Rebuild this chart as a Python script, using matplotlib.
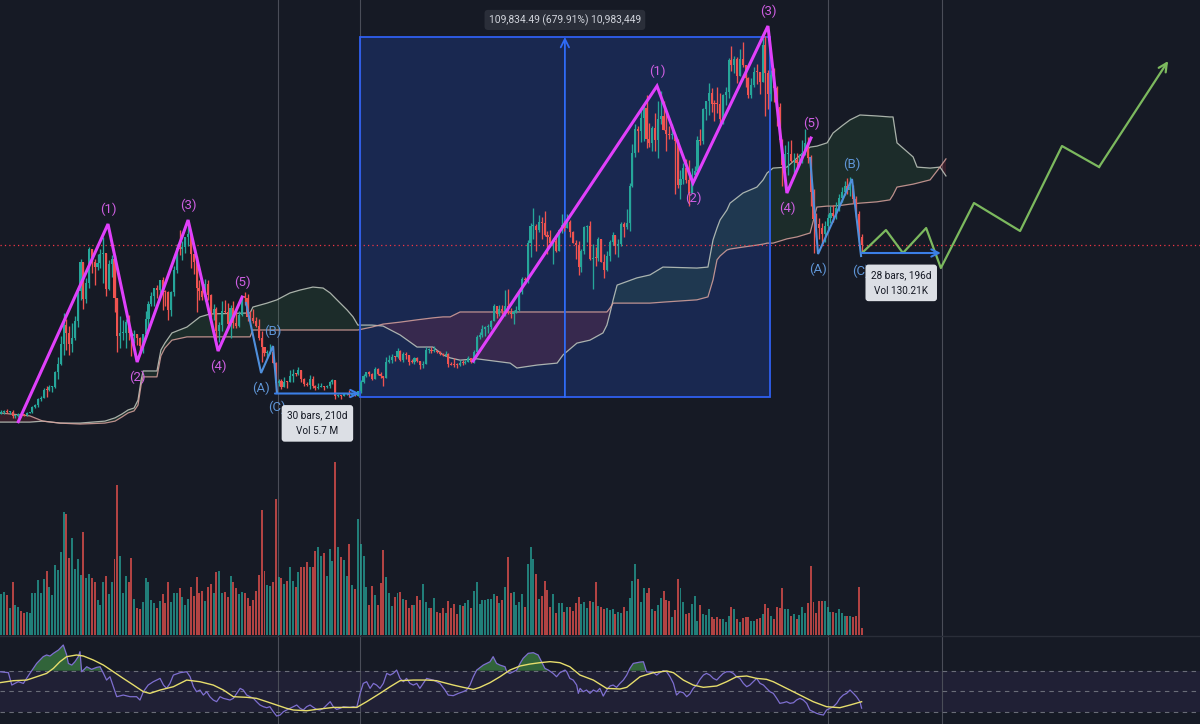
import numpy as np
import matplotlib
matplotlib.use("Agg")
import matplotlib.pyplot as plt
from matplotlib.patches import Rectangle, FancyArrowPatch

plt.rcParams['font.family'] = ['Roboto', 'DejaVu Sans']

BG = '#161a25'
UP = '#26a69a'
DN = '#ef5350'

# ---------------- data (prices in thousands USD, weekly bars) ----------------
first_open = 11.07
closes = [
    11.68, 11.85, 11.65, 11.71, 10.28, 10.33, 11.08, 10.73, 10.67, 11.38,
    11.50, 13.03, 13.80, 15.48, 15.96, 18.41, 18.18, 19.17, 19.27, 23.86,
    26.27, 32.20, 38.15, 35.83, 32.29, 34.26, 39.25, 48.58, 57.49, 46.19,
    50.97, 61.20, 57.35, 55.82, 57.06, 59.77, 60.00, 49.10, 56.60, 58.23,
    46.42, 34.70, 35.68, 35.80, 39.10, 35.60, 34.70, 35.29, 34.26, 31.78,
    35.40, 39.85, 44.61, 47.08, 49.32, 48.83, 51.75, 48.31, 48.28, 42.70,
    48.20, 54.96, 61.53, 61.31, 61.84, 64.95, 66.00, 59.72, 57.27, 49.40,
    48.38, 46.70, 50.78, 47.29, 41.86, 43.08, 36.28, 38.15, 42.41, 42.20,
    38.35, 43.18, 38.81, 37.78, 41.26, 46.82, 46.41, 40.43, 40.38, 39.45,
    37.71, 34.30, 31.33, 29.45, 29.47, 29.86, 26.57, 20.55, 21.03, 19.30,
    20.85, 20.80, 22.58, 23.30, 23.18, 24.31, 21.52, 20.05, 19.83, 21.80,
    19.41, 18.80, 19.31, 19.42, 19.07, 19.57, 20.63, 21.30, 16.33, 16.70,
    16.46, 17.13, 17.20, 16.78, 16.84, 16.55, 17.94, 20.88, 22.71, 23.75,
    23.32, 21.78, 24.63, 23.15, 22.43, 22.04, 26.91, 27.49, 28.45, 28.33,
    30.30, 27.59, 29.23, 28.90, 26.78, 26.75, 28.08, 27.12, 25.84, 26.34,
    30.55, 30.59, 30.17, 30.25, 29.90, 29.28, 29.05, 29.41, 26.10, 26.00,
    25.84, 25.83, 26.53, 26.52, 26.97, 27.92, 26.85, 29.99, 34.50, 35.02,
    37.05, 37.40, 37.45, 39.46, 43.78, 41.37, 43.01, 42.28, 43.93, 41.73,
    41.58, 42.03, 42.58, 48.30, 52.14, 51.73, 63.11, 68.37, 68.39, 67.21,
    69.70, 69.36, 65.66, 64.94, 63.12, 63.89, 60.80, 66.97, 68.51, 67.75,
    69.65, 66.64, 63.21, 62.68, 55.85, 60.79, 68.17, 68.25, 58.12, 58.71,
    58.43, 64.22, 57.30, 54.84, 59.12, 63.35, 65.60, 62.09, 62.85, 69.03,
    67.97, 69.36, 80.44, 90.60, 97.90, 97.28, 101.20, 104.46, 94.87, 93.73,
    98.23, 94.52, 101.04, 101.87, 97.69, 96.48, 96.12, 96.28, 94.27, 80.73,
    82.58, 86.08, 82.34, 78.37, 83.74, 85.17, 94.65, 94.28, 104.17, 106.45,
    109.00, 105.70, 105.65, 105.60, 100.96, 108.39, 109.20, 119.10, 117.30, 119.40,
    114.20, 119.30, 117.40, 113.50, 108.20, 111.20, 115.30, 115.20, 112.20, 123.50,
    115.10, 108.60, 114.50, 110.50, 104.70, 94.50, 86.80, 90.40, 90.43, 88.20,
    88.50, 87.50, 87.90, 90.60, 93.60, 89.20, 78.60, 70.50, 68.90, 67.60,
    66.00, 68.40, 70.90, 72.40, 71.30, 73.80, 76.90, 78.80, 80.60, 79.40,
    80.20, 76.50, 72.00, 65.00, 62.50,
]
highs = [
    12.1, 12.1, 12.5, 11.8, 12.1, 10.6, 11.2, 11.2, 10.9, 11.5,
    11.7, 13.3, 14.0, 15.9, 16.5, 18.8, 19.5, 19.9, 19.4, 24.2,
    28.4, 34.8, 41.9, 40.0, 37.8, 38.6, 40.9, 48.9, 58.4, 57.4,
    52.6, 61.8, 61.2, 58.3, 59.9, 61.2, 64.9, 57.0, 57.9, 59.5,
    59.6, 45.8, 40.9, 39.5, 40.0, 41.3, 36.5, 36.6, 35.0, 34.6,
    35.5, 42.4, 45.3, 48.1, 49.4, 50.4, 51.9, 52.9, 48.8, 48.4,
    48.4, 56.1, 62.9, 67.0, 63.7, 64.9, 69.0, 66.3, 59.8, 59.1,
    51.9, 51.0, 52.1, 52.0, 47.6, 44.5, 43.5, 38.9, 45.5, 45.8,
    44.7, 44.2, 45.4, 42.4, 42.3, 47.0, 48.2, 47.5, 42.4, 42.9,
    40.7, 40.0, 36.3, 30.7, 30.6, 32.4, 31.7, 26.9, 21.8, 21.6,
    22.4, 21.0, 24.3, 24.6, 23.6, 25.2, 24.4, 21.9, 20.6, 22.8,
    22.7, 19.7, 20.4, 20.5, 19.5, 19.7, 20.9, 21.5, 21.4, 17.2,
    16.9, 17.4, 17.4, 18.4, 17.0, 16.9, 17.9, 21.3, 23.3, 23.9,
    24.2, 23.4, 25.2, 25.1, 23.9, 22.6, 28.4, 29.0, 29.2, 28.8,
    31.0, 30.4, 30.0, 29.8, 29.0, 27.7, 28.3, 28.4, 27.1, 27.0,
    31.4, 31.0, 31.5, 31.8, 30.4, 30.3, 29.6, 30.2, 29.5, 26.8,
    28.1, 26.5, 27.4, 27.4, 27.5, 28.6, 28.0, 30.4, 35.2, 36.0,
    38.0, 37.9, 38.4, 39.8, 44.5, 43.4, 44.3, 44.1, 48.9, 49.0,
    43.3, 42.8, 43.8, 48.5, 52.8, 52.9, 64.0, 69.2, 73.8, 68.9,
    71.6, 71.2, 72.8, 66.9, 67.2, 64.7, 65.5, 67.4, 71.9, 70.0,
    71.9, 70.2, 66.9, 64.0, 63.8, 61.4, 68.3, 68.5, 70.0, 62.7,
    61.8, 65.0, 64.5, 59.8, 60.6, 64.1, 66.5, 65.5, 64.5, 69.5,
    69.5, 73.6, 81.5, 93.3, 99.6, 98.9, 103.9, 105.0, 108.3, 99.9,
    98.9, 102.7, 106.4, 109.6, 106.5, 102.5, 98.8, 99.5, 96.5, 95.0,
    85.3, 87.5, 88.8, 88.5, 86.1, 86.5, 95.7, 97.9, 104.4, 105.8,
    112.0, 110.4, 106.8, 110.6, 108.9, 108.6, 110.6, 119.5, 123.2, 120.2,
    119.8, 122.3, 124.5, 117.6, 113.8, 113.4, 116.8, 117.9, 114.6, 125.8,
    126.2, 115.9, 115.9, 116.4, 111.0, 106.0, 95.0, 93.0, 94.2, 94.6,
    90.5, 90.6, 90.4, 94.7, 97.9, 95.5, 90.0, 79.5, 72.3, 70.9,
    69.2, 69.8, 72.0, 74.3, 74.8, 75.5, 78.0, 80.1, 82.2, 83.0,
    83.2, 80.8, 77.5, 72.8, 66.0,
]
lows = [
    10.9, 11.1, 11.3, 11.1, 9.9, 9.9, 10.2, 10.1, 10.5, 10.5,
    11.2, 11.4, 12.9, 13.2, 14.8, 15.8, 16.3, 18.0, 17.6, 19.0,
    21.8, 26.0, 29.0, 30.4, 29.0, 30.0, 33.4, 37.4, 45.9, 43.0,
    44.9, 49.3, 54.0, 50.4, 54.9, 55.5, 51.0, 47.0, 48.8, 52.9,
    42.0, 30.0, 31.1, 33.4, 31.0, 33.4, 28.8, 32.7, 32.1, 29.3,
    29.5, 34.8, 37.6, 43.8, 43.9, 46.4, 46.6, 42.8, 44.0, 39.6,
    40.8, 47.1, 53.9, 59.5, 58.0, 60.0, 62.3, 55.6, 53.6, 42.0,
    45.6, 45.6, 45.5, 45.7, 40.6, 39.7, 34.0, 32.9, 36.3, 41.7,
    36.8, 34.3, 37.2, 37.2, 37.6, 40.9, 44.2, 39.2, 39.2, 38.6,
    37.6, 33.7, 26.7, 28.7, 28.0, 29.3, 26.6, 17.6, 19.6, 18.6,
    19.3, 18.9, 20.8, 20.8, 22.5, 22.8, 20.8, 19.5, 19.6, 18.5,
    18.8, 18.2, 18.6, 19.2, 18.2, 18.9, 19.0, 20.1, 15.6, 16.1,
    15.5, 16.4, 16.9, 16.3, 16.4, 16.5, 16.5, 17.3, 20.5, 22.3,
    22.5, 21.4, 21.5, 22.8, 21.9, 19.6, 21.9, 26.6, 26.5, 27.2,
    28.1, 27.1, 26.9, 27.7, 25.9, 26.4, 26.1, 26.9, 24.8, 24.9,
    26.3, 29.6, 29.7, 29.9, 29.6, 29.1, 28.7, 28.8, 25.2, 25.8,
    25.3, 24.9, 25.7, 26.0, 26.3, 27.2, 26.5, 26.5, 29.7, 33.9,
    34.5, 34.9, 35.6, 36.9, 39.2, 40.2, 41.0, 41.6, 41.0, 41.5,
    40.3, 38.5, 41.8, 42.3, 47.7, 50.5, 50.8, 59.0, 64.5, 60.8,
    66.4, 64.5, 65.2, 59.7, 62.8, 56.6, 60.3, 60.6, 66.1, 66.7,
    67.7, 65.1, 63.3, 58.4, 53.5, 54.3, 59.9, 63.5, 58.0, 49.1,
    56.1, 57.8, 57.2, 52.6, 54.6, 57.5, 62.6, 59.8, 58.9, 62.1,
    65.1, 67.5, 66.8, 80.2, 89.4, 90.8, 94.0, 94.2, 92.2, 92.5,
    91.2, 91.2, 89.2, 99.5, 97.7, 91.2, 94.9, 94.8, 78.2, 80.0,
    76.6, 81.1, 81.6, 74.5, 78.9, 83.0, 84.0, 92.9, 93.4, 100.7,
    102.1, 103.1, 100.4, 102.7, 99.6, 99.6, 105.2, 107.5, 115.7, 115.0,
    112.0, 114.2, 116.8, 110.7, 107.3, 107.3, 110.6, 111.7, 108.6, 112.2,
    102.0, 104.1, 106.4, 106.3, 98.9, 94.0, 80.6, 85.5, 84.0, 88.0,
    84.5, 86.6, 86.8, 87.5, 90.0, 87.5, 74.5, 60.1, 65.0, 64.3,
    62.8, 63.5, 66.6, 69.2, 69.5, 70.4, 72.8, 75.6, 77.9, 78.0,
    77.6, 75.2, 71.2, 63.4, 60.2,
]
volume_2020_2023 = [
    123, 130, 120, 82, 160, 90, 85, 73, 67, 70, 67, 127, 125, 165, 125, 167, 193, 145, 120, 210,
    195, 250, 368, 362, 230, 290, 197, 227, 180, 310, 170, 183, 170, 160, 105, 90, 160, 177, 122, 159,
    227, 450, 237, 127, 177, 160, 230, 107, 80, 77, 100, 170, 160, 105, 95, 80, 102, 122, 95, 158,
    98, 125, 125, 140, 115, 90, 108, 143, 117, 173, 127, 133, 102, 145, 153, 127, 190, 193, 127, 130,
    113, 177, 158, 140, 123, 128, 125, 110, 87, 105, 133, 180, 375, 192, 150, 147, 158, 408, 175, 170,
    153, 163, 203, 162, 145, 190, 205, 205, 220, 203, 203, 252, 265, 237, 245, 177, 258, 222, 519, 263,
    233, 225, 177, 273, 150, 138, 347, 273, 237, 145, 90, 147, 120, 90, 155, 255, 175, 125, 88, 115,
    125, 130, 107, 105, 80, 90, 90, 117, 105, 153, 100, 80,
]
volume_2023_2026 = [
    80, 110, 70, 65, 80, 65, 102, 80, 92, 63, 90, 87, 95, 105, 80, 132, 160, 92, 105, 105,
    107, 107, 122, 117, 97, 105, 145, 235, 125, 129, 90, 100, 123, 85, 213, 265, 227, 182, 107, 117,
    163, 135, 85, 122, 65, 95, 95, 68, 85, 85, 73, 95, 115, 92, 98, 80, 102, 100, 160, 87,
    85, 78, 80, 75, 78, 63, 70, 67, 83, 73, 110, 162, 213, 168, 98, 140, 125, 140, 77, 73,
    90, 112, 133, 105, 103, 55, 75, 168, 140, 98, 63, 67, 93, 117, 42, 90, 62, 60, 78, 55,
    47, 55, 47, 47, 38, 57, 85, 77, 47, 40, 52, 55, 53, 43, 43, 48, 50, 63, 92, 82,
    57, 47, 83, 82, 140, 77, 77, 58, 63, 48, 60, 85, 65, 95, 207, 98, 65, 102, 102, 102,
    83, 70, 70, 65, 77, 65, 58, 58, 58, 55, 58, 143, 20,
]

# Ichimoku cloud (leading spans), vertices at bar positions
cloud_bar = [
    -0.5, 10.1, 14.7, 20.7, 27.8, 36.6, 40.2, 42.7, 44.8, 46.9, 48.3, 49.4, 50.1, 55.0, 56.4,
    57.8, 60.3, 65.6, 70.2, 73.8, 87.9, 88.9, 93.9, 97.4, 102.0, 105.6, 110.1, 113.7, 116.2,
    118.6, 122.2, 124.3, 126.0, 131.0, 134.9, 140.9, 146.9, 152.5, 156.1, 158.6, 162.1, 168.1,
    179.8, 182.2, 189.3, 196.4, 198.5, 203.4, 208.0, 212.6, 214.0, 215.1, 216.2, 217.6, 224.6,
    229.2, 233.8, 245.8, 249.7, 251.5, 252.9, 254.0, 256.4, 257.5, 262.1, 267.0, 269.2, 270.6,
    272.7, 277.6, 281.2, 285.8, 288.2, 291.8, 293.9, 297.4, 299.9, 303.4, 309.4, 314.0, 315.1,
    316.5, 322.2, 323.6, 328.2, 331.7, 333.8,
]
span_a = [
    8.5, 8.5, 8.8, 8.2, 8.2, 8.8, 9.8, 11.0, 12.2, 12.8, 15.2, 21.3, 24.1, 24.1, 30.5,
    32.6, 35.7, 37.5, 40.6, 41.5, 41.8, 43.6, 44.8, 45.8, 47.9, 48.8, 49.7, 49.4, 47.9,
    45.8, 42.7, 40.6, 38.1, 38.1, 37.8, 35.1, 31.4, 31.4, 29.0, 28.1, 27.4, 27.8,
    26.5, 25.0, 25.9, 26.5, 29.0, 32.6, 33.5, 35.7, 38.1, 41.8, 45.8, 50.3, 52.5,
    53.4, 55.8, 55.5, 55.8, 64.1, 67.7, 70.2, 73.2, 75.3, 78.4, 80.2, 82.4, 84.5,
    86.0, 86.3, 89.1, 92.4, 92.7, 93.7, 96.7, 99.1, 100.7, 102.2, 101.9, 101.6, 101.6,
    93.7, 89.4, 86.3, 86.0, 86.3, 83.6,
]
span_b = [
    11.3, 10.4, 8.8, 8.2, 7.9, 8.2, 8.8, 10.1, 11.3, 11.9, 13.7, 19.8, 22.3, 22.3, 28.7,
    31.1, 33.5, 34.5, 34.5, 34.5, 34.5, 36.6, 36.6, 36.6, 36.6, 36.6, 36.6, 36.6, 36.6,
    36.6, 36.6, 36.6, 36.6, 37.5, 38.4, 39.0, 39.7, 40.3, 40.6, 40.6, 42.1, 42.1,
    42.1, 42.1, 42.1, 42.1, 42.1, 42.1, 42.1, 42.1, 42.1, 43.3, 44.8, 44.8, 44.8,
    44.8, 45.1, 45.8, 46.7, 51.9, 58.0, 59.2, 61.0, 61.3, 61.9, 62.5, 62.8, 63.1,
    63.1, 64.4, 65.0, 66.2, 74.1, 74.4, 74.4, 74.7, 75.0, 75.3, 75.7, 76.3, 77.8,
    80.2, 81.1, 81.4, 82.4, 86.3, 88.8,
]

# RSI (14) and its moving average
rsi_bar = [
    -0.5, 2.5, 3.7, 4.8, 6.0, 7.8, 10.1, 12.5, 14.8, 16.0, 17.2, 18.4, 20.2, 21.9, 23.1, 23.7,
    24.9, 26.0, 27.2, 27.8, 28.4, 30.2, 31.9, 33.7, 34.9, 36.1, 37.2, 38.4, 39.6, 40.8, 43.1,
    45.5, 47.8, 49.0, 50.2, 51.9, 53.7, 54.9, 56.1, 57.3, 58.4, 59.6, 60.8, 63.2, 65.5, 66.7,
    67.9, 69.0, 70.2, 71.4, 72.6, 73.7, 74.9, 76.1, 77.3, 78.5, 80.8, 82.0, 83.2, 84.4, 85.5,
    86.7, 87.9, 89.1, 90.2, 91.4, 92.6, 93.8, 94.9, 96.1, 97.3, 98.5, 99.7, 100.8, 102.0, 103.2,
    104.4, 105.6, 106.7, 107.9, 109.1, 110.3, 111.4, 112.6, 113.8, 115.0, 116.2, 117.3, 118.5,
    119.7, 120.9, 123.2, 124.4, 125.6, 126.8, 127.9, 129.1, 130.3, 131.5, 132.6, 133.8, 135.0,
    136.2, 137.4, 138.5, 139.7, 140.9, 142.1, 143.2, 144.4, 145.6, 146.8, 147.9, 149.1, 150.3,
    151.5, 152.7, 153.8, 155.0, 156.8, 157.9, 159.7, 161.5, 163.2, 164.4, 165.6, 166.8, 168.0,
    170.3, 172.7, 173.8, 175.0, 176.2, 178.0, 178.6, 179.7, 182.1, 183.3, 184.4, 186.2, 188.0,
    189.7, 190.9, 192.1, 193.3, 195.0, 196.2, 197.4, 199.2, 199.8, 200.9, 202.1, 203.3, 203.9,
    204.5, 205.6, 206.8, 208.0, 209.2, 210.4, 211.5, 212.7, 213.9, 215.1, 216.2, 217.4, 218.6,
    219.8, 221.0, 222.1, 223.3, 225.7, 226.9, 228.0, 230.4, 231.6, 232.7, 233.9, 235.1, 236.3,
    237.5, 238.6, 239.8, 241.0, 242.2, 243.3, 244.5, 245.7, 246.9, 248.1, 249.2, 250.4, 251.6,
    252.8, 253.9, 255.1, 256.3, 257.5, 258.7, 259.8, 261.0, 262.2, 263.4, 264.5, 265.7, 266.9,
    268.1, 269.3, 270.4, 271.6, 272.8, 274.0, 275.1, 276.3, 277.5, 278.7, 279.9, 281.0, 282.2,
    283.4, 284.6, 285.7, 286.9, 288.1, 289.3, 290.5, 291.6, 292.8, 294.0, 295.2, 296.3, 297.5,
    298.7, 299.9, 301.1, 302.2, 303.4, 304.0,
]
rsi_val = [
    69.0, 68.1, 56.2, 57.8, 59.4, 57.8, 67.4, 77.0, 83.5, 85.1, 84.1, 86.7, 89.9, 94.7, 85.1, 77.0,
    75.4, 78.6, 83.5, 88.3, 69.0, 73.8, 71.3, 73.2, 73.8, 67.4, 61.0, 64.2, 54.6, 45.0, 46.6,
    45.0, 45.0, 41.8, 49.8, 56.2, 59.4, 61.0, 62.6, 56.2, 53.0, 57.8, 65.8, 68.1, 69.0, 64.2,
    54.6, 49.8, 51.4, 46.6, 49.8, 45.0, 41.8, 40.2, 45.0, 43.4, 41.8, 43.4, 48.2, 53.0, 51.4,
    46.6, 45.0, 43.4, 40.2, 37.0, 35.4, 34.4, 35.4, 30.6, 26.4, 27.4, 30.6, 32.2, 33.8, 35.4,
    37.0, 33.8, 32.2, 35.4, 37.0, 34.7, 32.8, 32.2, 33.8, 37.0, 40.2, 35.4, 32.8,
    33.8, 35.4, 34.7, 35.4, 34.7, 48.2, 57.8, 59.4, 53.0, 57.8, 56.2, 53.0, 57.8,
    67.4, 65.8, 67.4, 70.6, 62.6, 59.4, 62.6, 57.8, 56.2, 57.8, 53.0, 57.8, 62.6,
    61.7, 61.0, 59.4, 57.8, 51.4, 46.6, 46.0, 48.2, 49.8, 51.4, 56.2, 64.2, 70.6,
    75.4, 78.6, 83.5, 77.0, 75.4, 73.8, 69.0, 67.4, 70.6, 77.0, 81.9, 86.7, 87.3,
    85.1, 78.6, 72.2, 70.6, 67.4, 64.2, 68.1, 70.6, 69.0, 62.6, 61.0, 56.2, 48.2,
    53.0, 49.8, 51.4, 48.2, 51.4, 49.8, 53.0, 45.6, 51.4, 55.3, 56.2, 54.0, 57.8,
    61.0, 65.8, 72.2, 77.0, 78.3, 78.6, 69.0, 68.1, 65.8, 68.1, 70.0, 69.0, 64.2,
    57.8, 46.6, 49.8, 48.8, 45.0, 47.6, 53.0, 56.2, 61.7, 65.8, 67.4, 65.8, 62.6,
    61.0, 64.2, 67.4, 69.0, 69.0, 67.4, 64.2, 62.6, 57.8, 54.6, 56.2, 59.4, 62.6,
    57.8, 56.2, 53.0, 49.8, 48.2, 43.4, 38.6, 39.2, 40.2, 38.6, 39.2, 41.8, 43.4,
    41.8, 38.6, 32.2, 30.6, 29.0, 28.0, 27.4, 32.2, 33.8, 35.4, 38.6, 43.4, 46.6,
    48.2, 51.4, 48.2, 45.0, 40.2, 34.0,
]
rsi_ma_bar = [
    -0.5, 4.3, 9.0, 12.5, 16.0, 18.4, 20.7, 23.1, 26.6, 29.0, 32.5, 36.1, 39.6, 43.1, 46.7, 50.2,
    52.5, 56.1, 60.8, 65.5, 70.2, 74.9, 78.5, 82.0, 86.7, 90.2, 93.8, 97.3, 100.8, 103.2, 107.9,
    111.4, 117.3, 122.0, 125.6, 129.1, 133.8, 137.4, 140.9, 145.6, 150.3, 153.8, 155.0, 159.7,
    163.2, 166.8, 169.1, 172.7, 176.2, 179.7, 183.3, 186.8, 190.3, 193.9, 197.4, 200.9, 204.5,
    209.2, 213.9, 218.6, 221.0, 225.7, 230.4, 235.1, 237.5, 241.0, 244.5, 248.1, 252.8, 256.3,
    259.8, 263.4, 266.9, 270.4, 272.8, 277.5, 282.2, 286.9, 291.6, 296.3, 299.9, 304.0,
]
rsi_ma_val = [
    58.5, 60.4, 61.0, 64.2, 67.4, 72.2, 78.6, 83.5, 85.1, 84.1, 80.3, 75.4, 69.0, 62.6, 56.2, 49.8,
    48.2, 51.4, 54.6, 61.0, 59.4, 56.2, 51.4, 45.0, 44.4, 43.4, 40.2, 37.0, 33.8, 32.2, 31.5,
    32.8, 34.7, 34.7, 34.7, 40.2, 48.2, 54.6, 60.4, 61.0, 61.0, 60.4, 59.5, 56.2,
    54.0, 52.0, 54.0, 58.5, 64.2, 70.6, 74.5, 76.4, 77.7, 78.7, 77.7, 73.8, 65.8,
    61.0, 53.0, 52.4, 54.0, 64.2, 68.1, 69.7, 68.1, 61.0, 56.2, 54.0, 55.3, 59.4,
    64.2, 64.9, 62.6, 61.7, 59.4, 53.0, 46.6, 40.2, 35.4, 34.4, 37.0, 40.2,
]

# Elliott wave drawings (bar, price)
impulse_2021_bar = [6.0, 37.7, 48.0, 66.0, 76.6, 85.1]
impulse_2021_val = [8.62, 68.93, 26.83, 70.16, 30.19, 46.66]
impulse_labels = ["", "(1)", "(2)", "(3)", "(4)", "(5)"]
abc_2022_bar = [86.5, 91.8, 96.0, 97.4]
abc_2022_val = [44.83, 23.48, 31.71, 17.68]
abc_labels = ["", "(A)", "(B)", "(C)"]
impulse_2025_bar = [166.7, 231.7, 244.4, 270.9, 277.6, 286.1]
impulse_2025_val = [27.14, 111.04, 81.44, 129.34, 78.39, 95.17]
abc_2026_bar = [285.8, 288.6, 300.6, 303.8]
abc_2026_val = [89.07, 59.78, 82.66, 59.17]
projection_bar = [304.5, 312.6, 318.6, 326.8, 332.0, 343.7, 360.0, 374.8, 387.9, 412.3]
projection_val = [60.39, 67.10, 60.09, 67.71, 55.51, 75.34, 66.80, 92.73, 86.33, 118.66]

# measurement tools
range_start_bar, range_end_bar = 126.7, 271.6
range_low, range_high = 16.154, 125.988
range_text = "109,834.49 (679.91%) 10,983,449"
date_range_1 = (96.7, 126.7, 17.22)
date_range_1_text = "30 bars, 210d\nVol 5.7 M"
date_range_2 = (304.0, 332.0, 60.09)
date_range_2_text = "28 bars, 196d\nVol 130.21K"
vertical_lines = [97.8, 126.7, 292.1, 332.4]

# ---------------- figure ----------------
fig = plt.figure(figsize=(12, 7.24), dpi=100, facecolor=BG)
ax = fig.add_axes([0, 88 / 724, 1, 636 / 724])
rax = fig.add_axes([0, 0, 1, 88 / 724])
XLIM = (-0.46, 423.57)
for a in (ax, rax):
    a.set_facecolor(BG)
    a.set_xlim(*XLIM)
    a.set_xticks([])
    a.set_yticks([])
    for s in a.spines.values():
        s.set_visible(False)
ax.set_ylim(-56.76, 137.28)
rax.set_ylim(18.75, 103.36)
rax.spines['top'].set_visible(True)
rax.spines['top'].set_color('#2a2e39')
rax.spines['top'].set_linewidth(1.0)

# vertical guide lines
for b in vertical_lines:
    ax.axvline(b, color='#4a4d58', lw=0.8, zorder=0.6)
    rax.axvline(b, color='#4a4d58', lw=0.8, zorder=0.6)

# price range box
ax.add_patch(Rectangle((range_start_bar, range_low), range_end_bar - range_start_bar,
                       range_high - range_low, facecolor='#2962ff', alpha=0.2,
                       edgecolor='none', zorder=0.8))
ax.add_patch(Rectangle((range_start_bar, range_low), range_end_bar - range_start_bar,
                       range_high - range_low, facecolor='none', edgecolor='#2f5ff0',
                       lw=1.3, zorder=2.5))
mid = (range_start_bar + range_end_bar) / 2
ax.add_patch(FancyArrowPatch((mid, range_low), (mid, range_high), arrowstyle='->',
                             mutation_scale=15, color='#2f6bf5', lw=1.3,
                             shrinkA=0, shrinkB=0, zorder=2.6))
ax.annotate(range_text, (mid, range_high), xytext=(0, 12.3), textcoords='offset points',
            ha='center', va='center', fontsize=7.4, color='#d1d4dc', zorder=7,
            bbox=dict(boxstyle='round,pad=0.42,rounding_size=0.35', fc='#2a2e39', ec='none'))

# Ichimoku cloud
cb = np.array(cloud_bar)
sa = np.array(span_a)
sb = np.array(span_b)
ax.fill_between(cb, sa, sb, where=sa >= sb, interpolate=True, color='#4caf50',
                alpha=0.12, lw=0, zorder=1)
ax.fill_between(cb, sa, sb, where=sa < sb, interpolate=True, color='#f23645',
                alpha=0.14, lw=0, zorder=1)
ax.plot(cb, sa, color='#c3cbc1', lw=0.9, alpha=0.85, zorder=1.5)
ax.plot(cb, sb, color='#d9a39d', lw=0.9, alpha=0.85, zorder=1.5)

# last price line
ax.axhline(closes[-1], color='#f23645', lw=0.9, ls=(0, (1, 2.5)), zorder=1.6)

# candles
c = np.array(closes)
o = np.concatenate([[first_open], c[:-1]])
h = np.maximum(np.array(highs), np.maximum(o, c))
l = np.minimum(np.array(lows), np.minimum(o, c))
xb = np.arange(len(c))
up = c >= o
cols = np.where(up, UP, DN)
ax.vlines(xb, l, h, colors=cols, lw=0.95, zorder=3)
ax.bar(xb, np.maximum(np.abs(c - o), 0.3), bottom=np.minimum(o, c), width=0.74,
       color=cols, linewidth=0, zorder=3.1)

# volume
vol = np.array(volume_2020_2023 + volume_2023_2026)
vax = ax.twinx()
vax.set_ylim(-3, 1905)
vax.set_xlim(*XLIM)
vax.set_xticks([])
vax.set_yticks([])
for s in vax.spines.values():
    s.set_visible(False)
vcols = np.where(up, '#26a69a', '#ef5350')
vax.bar(xb, vol, width=0.7, color=vcols, alpha=0.72, linewidth=0, zorder=1)

# Elliott waves
MAG = '#e040fb'
MAG_T = '#cf5fe3'
BLUE = '#4f8fdc'
BLUE_T = '#5f95d6'


def wave(bars, vals, labels, color, tcolor, lw, dirs):
    ax.plot(bars, vals, color=color, lw=lw, zorder=4, solid_joinstyle='miter')
    for b, v, t, d in zip(bars, vals, labels, dirs):
        if not t:
            continue
        ax.annotate(t, (b, v), xytext=(0, 10.5 if d > 0 else -11.2),
                    textcoords='offset points', ha='center', va='center',
                    fontsize=9.5, color=tcolor, zorder=6)


wave(impulse_2021_bar, impulse_2021_val, impulse_labels, MAG, MAG_T, 2.2, [0, 1, -1, 1, -1, 1])
wave(abc_2022_bar, abc_2022_val, abc_labels, BLUE, BLUE_T, 1.5, [0, -1, 1, -1])
wave(impulse_2025_bar, impulse_2025_val, impulse_labels, MAG, MAG_T, 2.2, [0, 1, -1, 1, -1, 1])
wave(abc_2026_bar, abc_2026_val, abc_labels, BLUE, BLUE_T, 1.5, [0, -1, 1, -1])

# date ranges
for (b0, b1, pv), txt in ((date_range_1, date_range_1_text), (date_range_2, date_range_2_text)):
    ax.add_patch(FancyArrowPatch((b0, pv), (b1, pv), arrowstyle='->', mutation_scale=13,
                                 color='#3b7fe6', lw=1.5, shrinkA=0, shrinkB=0, zorder=4.5))
    ax.annotate(txt, ((b0 + b1) / 2, pv), xytext=(0, -21.5), textcoords='offset points',
                ha='center', va='center', fontsize=7.2, color='#131722', linespacing=1.7,
                zorder=7,
                bbox=dict(boxstyle='round,pad=0.55,rounding_size=0.3', fc='#dcdfe5', ec='none'))

# projection
ax.plot(projection_bar[:-1], projection_val[:-1], color='#7cb95e', lw=1.6, zorder=4)
ax.add_patch(FancyArrowPatch((projection_bar[-2], projection_val[-2]),
                             (projection_bar[-1], projection_val[-1]), arrowstyle='->',
                             mutation_scale=15, color='#7cb95e', lw=1.6,
                             shrinkA=0, shrinkB=0, zorder=4))

# RSI pane
rax.axhspan(30, 70, color='#7e57c2', alpha=0.1, lw=0, zorder=0.5)
for lvl in (70, 50, 30):
    rax.axhline(lvl, color='#787b86', lw=0.8, ls=(0, (4, 4)), alpha=0.85, zorder=1)
rb = np.array(rsi_bar)
rv = np.array(rsi_val)
rax.fill_between(rb, rv, 70, where=rv > 70, interpolate=True, color='#4caf50',
                 alpha=0.5, lw=0, zorder=1.5)
rax.plot(rb, rv, color='#7e6fd0', lw=0.9, zorder=2)
rax.plot(rsi_ma_bar, rsi_ma_val, color='#e6dd6c', lw=1.0, zorder=2.2)

fig.savefig('out.png', dpi=100, facecolor=BG)
